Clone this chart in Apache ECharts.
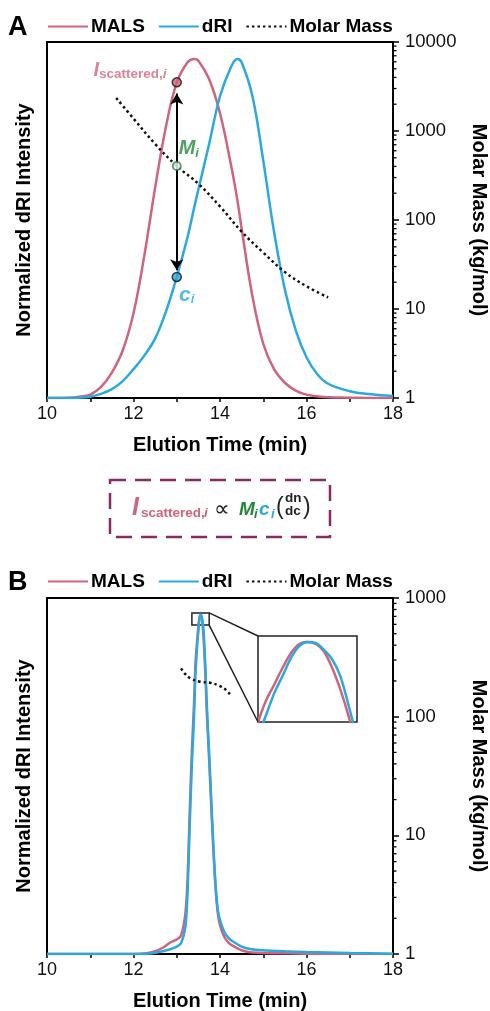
<!DOCTYPE html>
<html>
<head>
<meta charset="utf-8">
<title>MALS / dRI</title>
<script src="https://cdn.jsdelivr.net/npm/echarts@6/dist/echarts.min.js"></script>
<style>
  html, body { margin: 0; padding: 0; background: #fff; }
  #chart { width: 490px; height: 1011px; }
</style>
</head>
<body>
<div id="chart"></div>
<script>
// ---- panel A : broad peaks ----
const timeA = [10, 10.5, 10.75, 11, 11.25, 11.5, 11.75, 12, 12.25, 12.5, 12.75, 13, 13.25, 13.4, 13.5, 13.75,
  14, 14.25, 14.4, 14.5, 14.75, 15, 15.25, 15.5, 15.75, 16, 16.25, 16.5, 17, 17.5, 18];
const malsA = [0, 0.001, 0.004, 0.01, 0.033, 0.075, 0.14, 0.25, 0.42, 0.62, 0.8, 0.93, 0.99, 1.0, 0.995, 0.94,
  0.84, 0.69, 0.585, 0.5, 0.3, 0.16, 0.085, 0.045, 0.022, 0.01, 0.005, 0.002, 0.001, 0, 0];
const driA = [0, 0, 0.001, 0.004, 0.012, 0.026, 0.05, 0.085, 0.125, 0.175, 0.255, 0.357, 0.475, 0.56, 0.615, 0.75,
  0.89, 0.975, 1.0, 0.99, 0.89, 0.7, 0.49, 0.32, 0.2, 0.12, 0.07, 0.042, 0.02, 0.011, 0.006];
const molarTimeA = [11.6, 12, 12.5, 13, 13.5, 14, 14.5, 15, 15.5, 16, 16.5];
const molarA = [2350, 1380, 715, 405, 255, 142, 74, 43, 26, 18, 13.5];

// annotation points in A (slice at 13 min)
const sliceTime = 13;
const sliceMALS = 0.931;
const sliceDRI = 0.357;
const sliceMolar = 405;
const arrowLow = 0.377;
const arrowHigh = 0.898;

// ---- panel B : narrow peak ----
const timeB = [10, 11, 12, 12.3, 12.5, 12.7, 12.85, 13.0, 13.1, 13.2, 13.25, 13.3, 13.35, 13.4, 13.43, 13.45,
  13.47, 13.49, 13.51, 13.53, 13.55, 13.57, 13.59, 13.61, 13.63, 13.65, 13.67, 13.7, 13.75, 13.8, 13.85, 13.9,
  13.95, 14.0, 14.1, 14.2, 14.3, 14.5, 14.7, 15.0, 15.5, 16, 17, 18];
const malsB = [0, 0, 0, 0.002, 0.008, 0.02, 0.034, 0.043, 0.055, 0.12, 0.22, 0.42, 0.6, 0.74, 0.848, 0.891,
  0.921, 0.952, 0.979, 0.996, 1.0, 0.996, 0.982, 0.951, 0.91, 0.86, 0.8, 0.7, 0.57, 0.43, 0.3, 0.19,
  0.12, 0.085, 0.05, 0.033, 0.024, 0.011, 0.005, 0.003, 0.002, 0.001, 0, 0];
const driB = [0, 0, 0, 0.001, 0.004, 0.009, 0.014, 0.022, 0.032, 0.08, 0.18, 0.38, 0.56, 0.7, 0.82, 0.864,
  0.905, 0.937, 0.97, 0.992, 1.0, 0.998, 0.985, 0.967, 0.935, 0.88, 0.82, 0.72, 0.59, 0.45, 0.31, 0.2,
  0.13, 0.1, 0.065, 0.047, 0.037, 0.022, 0.015, 0.011, 0.008, 0.006, 0.003, 0.001];
const molarTimeB = [13.1, 13.2, 13.31, 13.54, 13.77, 14.0, 14.12, 14.23];
const molarB = [255, 228, 211, 197, 193, 181, 170, 155];

// zoom box on the peak and the inset range
const zoomBoxX = [13.35, 13.75];
const zoomBoxY = [0.97, 1.006];
const insetX = [13.43, 13.67];
const insetY = [0.85, 1.011];

const RED = '#d0647c';
const BLUE = '#2aa9e0';
const GREEN = '#22873a';
const PURPLE = '#8a2a60';
const FONT = '"Liberation Sans", Arial, sans-serif';

const pairs = (xs, ys) => xs.map((x, i) => [x, ys[i]]);

function xAxisFor(gridIndex) {
  return {
    type: 'value', gridIndex: gridIndex, min: 10, max: 18, interval: 2,
    axisLine: { show: true, onZero: false, lineStyle: { color: '#000', width: 2 } },
    axisTick: { show: true, length: 4, lineStyle: { color: '#000', width: 1.5 } },
    minorTick: { show: true, splitNumber: 2, length: 4, lineStyle: { color: '#000', width: 1.5 } },
    splitLine: { show: false },
    axisLabel: { fontSize: 18, color: '#111', fontFamily: FONT, margin: 7 },
    name: 'Elution Time (min)', nameLocation: 'middle', nameGap: 37,
    nameTextStyle: { fontSize: 20, fontWeight: 'bold', color: '#000', fontFamily: FONT }
  };
}

function leftAxisFor(gridIndex) {
  return {
    type: 'value', gridIndex: gridIndex, min: 0, max: 1.05,
    axisLine: { show: true, onZero: false, lineStyle: { color: '#000', width: 2 } },
    axisTick: { show: false }, axisLabel: { show: false }, splitLine: { show: false },
    name: 'Normalized dRI Intensity', nameLocation: 'middle', nameRotate: 90, nameGap: 13,
    nameTextStyle: { fontSize: 20, fontWeight: 'bold', color: '#000', fontFamily: FONT }
  };
}

function rightAxisFor(gridIndex, top) {
  return {
    type: 'log', logBase: 10, gridIndex: gridIndex, position: 'right', min: 1, max: top,
    axisLine: { show: true, onZero: false, lineStyle: { color: '#000', width: 2 } },
    axisTick: { show: true, length: 6, lineStyle: { color: '#000', width: 1.5 } },
    axisLabel: { fontSize: 18.5, color: '#111', fontFamily: FONT, margin: 12, formatter: v => String(Math.round(v)) },
    splitLine: { show: false },
    name: 'Molar Mass (kg/mol)', nameLocation: 'middle', nameRotate: -90, nameGap: 76,
    nameTextStyle: { fontSize: 20, fontWeight: 'bold', color: '#000', fontFamily: FONT }
  };
}

// log minor ticks (2..9 in each decade) drawn on the right axis
function minorTickSeries(xIdx, yIdx, decades) {
  const vals = [];
  for (let d = 0; d < decades; d++) {
    for (let k = 2; k <= 9; k++) vals.push([18, k * Math.pow(10, d)]);
  }
  return {
    type: 'custom', xAxisIndex: xIdx, yAxisIndex: yIdx, silent: true, clip: false, data: vals,
    renderItem: function (params, api) {
      const p = api.coord([api.value(0), api.value(1)]);
      return { type: 'line', shape: { x1: p[0], y1: p[1], x2: p[0] + 3.5, y2: p[1] },
        style: { stroke: '#000', lineWidth: 1.3 } };
    }
  };
}

function curve(name, color, xIdx, yIdx, xs, ys, smooth) {
  return {
    name: name, type: 'line', xAxisIndex: xIdx, yAxisIndex: yIdx, data: pairs(xs, ys),
    symbol: 'none', smooth: smooth, lineStyle: { color: color, width: 2.5 }, itemStyle: { color: color }
  };
}

function molarSeries(xIdx, yIdx, xs, ys) {
  return {
    name: 'Molar Mass', type: 'line', xAxisIndex: xIdx, yAxisIndex: yIdx, data: pairs(xs, ys),
    symbol: 'none', smooth: 0.4, z: 3,
    lineStyle: { color: '#111', width: 2.5, type: [2.5, 3] }, itemStyle: { color: '#111' }
  };
}

function legendAt(top) {
  return {
    top: top, left: 42, itemWidth: 40, itemHeight: 14, itemGap: 13, selectedMode: false,
    data: ['MALS', 'dRI', 'Molar Mass'], itemStyle: { opacity: 0 },
    textStyle: { fontSize: 19, fontWeight: 'bold', color: '#000', fontFamily: FONT, padding: [0, 0, 0, -2] }
  };
}

const subStyle = (size, color, italic) => ({
  fontSize: size, fontWeight: 'bold', fontStyle: italic ? 'italic' : 'normal', color: color,
  fontFamily: FONT, verticalAlign: 'bottom', lineHeight: size + 3
});

// text piece for the formula box, placed by baseline
function piece(id, x, baseline, str, size, weight, style, color) {
  return {
    type: 'text', id: id, x: x, y: baseline - 0.34 * size, silent: true,
    style: { text: str, fontSize: size, fontWeight: weight, fontStyle: style, fontFamily: FONT, fill: color,
      align: 'left', verticalAlign: 'middle', textAlign: 'left', textVerticalAlign: 'middle' }
  };
}

const gridBase = { outerBoundsMode: 'none', containLabel: false, show: true, backgroundColor: 'transparent' };

const chart = echarts.init(document.getElementById('chart'));

const option = {
  animation: false,
  backgroundColor: '#fff',
  legend: [legendAt(12), legendAt(567)],
  grid: [
    Object.assign({ left: 47, top: 42, width: 346, height: 356, borderColor: '#000', borderWidth: 2 }, gridBase),
    Object.assign({ left: 47, top: 598, width: 346, height: 356, borderColor: '#000', borderWidth: 2 }, gridBase),
    Object.assign({}, gridBase, { left: 258, top: 636, width: 99, height: 86, borderColor: '#222', borderWidth: 1.5, backgroundColor: '#fff' })
  ],
  xAxis: [
    xAxisFor(0), xAxisFor(1),
    { type: 'value', gridIndex: 2, min: insetX[0], max: insetX[1], show: false }
  ],
  yAxis: [
    leftAxisFor(0), rightAxisFor(0, 10000),
    leftAxisFor(1), rightAxisFor(1, 1000),
    { type: 'value', gridIndex: 2, min: insetY[0], max: insetY[1], show: false }
  ],
  series: [
    curve('MALS', RED, 0, 0, timeA, malsA, 0.4),
    curve('dRI', BLUE, 0, 0, timeA, driA, 0.4),
    molarSeries(0, 1, molarTimeA, molarA),
    Object.assign(curve('MALS', RED, 1, 2, timeB, malsB, 0.25), {
      markArea: {
        silent: true,
        itemStyle: { color: 'rgba(0,0,0,0)', borderColor: '#222', borderWidth: 1.5 },
        data: [[{ coord: [zoomBoxX[0], zoomBoxY[0]] }, { coord: [zoomBoxX[1], zoomBoxY[1]] }]]
      }
    }),
    curve('dRI', BLUE, 1, 2, timeB, driB, 0.25),
    molarSeries(1, 3, molarTimeB, molarB),
    curve('MALS', RED, 2, 4, timeB, malsB, 0.3),
    curve('dRI', BLUE, 2, 4, timeB, driB, 0.3),
    // slice markers on the intensity traces + double arrow
    {
      type: 'scatter', xAxisIndex: 0, yAxisIndex: 0, symbolSize: 9, z: 5,
      itemStyle: { borderColor: '#111', borderWidth: 1.5 },
      data: [
        {
          value: [sliceTime, sliceMALS], itemStyle: { color: RED },
          label: {
            show: true, position: 'left', distance: 5, offset: [0, -12],
            formatter: '{I|I}{s|scattered,}{si|i}',
            rich: {
              I: { fontSize: 20, fontWeight: 'bold', fontStyle: 'italic', color: RED, fontFamily: FONT, lineHeight: 22 },
              s: subStyle(13.5, RED, false), si: subStyle(13.5, RED, true)
            }
          }
        },
        {
          value: [sliceTime, sliceDRI], itemStyle: { color: BLUE },
          label: {
            show: true, position: 'right', distance: 5, offset: [-8, 18],
            formatter: '{c|c}{ci|i}',
            rich: {
              c: { fontSize: 21, fontWeight: 'bold', fontStyle: 'italic', color: BLUE, fontFamily: FONT, lineHeight: 22 },
              ci: subStyle(13, BLUE, true)
            }
          }
        }
      ],
      markLine: {
        silent: true, symbol: ['arrow', 'arrow'], symbolSize: [10, 11],
        lineStyle: { color: '#000', width: 2, type: 'solid' }, label: { show: false },
        data: [[{ coord: [sliceTime, arrowLow] }, { coord: [sliceTime, arrowHigh] }]]
      }
    },
    {
      type: 'scatter', xAxisIndex: 0, yAxisIndex: 1, symbolSize: 8, z: 5,
      itemStyle: { color: '#fff', borderColor: GREEN, borderWidth: 1.8 },
      data: [{
        value: [sliceTime, sliceMolar],
        label: {
          show: true, position: 'right', distance: 5, offset: [-8, -17],
          formatter: '{M|M}{Mi|i}',
          rich: {
            M: { fontSize: 20, fontWeight: 'bold', fontStyle: 'italic', color: GREEN, fontFamily: FONT, lineHeight: 22 },
            Mi: subStyle(13, GREEN, true)
          }
        }
      }]
    },
    minorTickSeries(0, 1, 4),
    minorTickSeries(1, 3, 3)
  ],
  graphic: [
    { type: 'text', id: 'tagA', left: 8, top: 14, silent: true,
      style: { text: 'A', fontSize: 27, fontWeight: 'bold', fontFamily: FONT, fill: '#000' } },
    { type: 'text', id: 'tagB', left: 8, top: 569, silent: true,
      style: { text: 'B', fontSize: 27, fontWeight: 'bold', fontFamily: FONT, fill: '#000' } },
    { type: 'rect', id: 'fbox', silent: true, shape: { x: 110, y: 480, width: 220, height: 57 },
      style: { fill: 'none', stroke: PURPLE, lineWidth: 2.5, lineDash: [16, 9] } },
    piece('fI', 132, 517, 'I', 25, 'bold', 'italic', RED),
    piece('fs', 141, 518, 'scattered,', 13.5, 'bold', 'normal', RED),
    piece('fsi', 204, 518, 'i', 13.5, 'bold', 'italic', RED),
    piece('fp', 214, 517, '\u221d', 22, 'normal', 'normal', '#222'),
    piece('fM', 239, 516, 'M', 19, 'bold', 'italic', GREEN),
    piece('fMi', 254, 519, 'i', 13, 'bold', 'italic', GREEN),
    piece('fc', 259, 516, 'c', 19, 'bold', 'italic', BLUE),
    piece('fci', 271, 519, 'i', 13, 'bold', 'italic', BLUE),
    piece('fl', 276, 515, '(', 23, 'normal', 'normal', '#222'),
    piece('fdn', 285, 503, 'dn', 13.5, 'bold', 'normal', '#222'),
    piece('fdc', 285, 516, 'dc', 13.5, 'bold', 'normal', '#222'),
    piece('fr', 303, 515, ')', 23, 'normal', 'normal', '#222')
  ]
};

chart.setOption(option);

// connector lines from the zoom box to the inset, placed through the axes
const boxTopRight = chart.convertToPixel({ xAxisIndex: 1, yAxisIndex: 2 }, [zoomBoxX[1], zoomBoxY[1]]);
const boxBottomRight = chart.convertToPixel({ xAxisIndex: 1, yAxisIndex: 2 }, [zoomBoxX[1], zoomBoxY[0]]);
const insetTopLeft = chart.convertToPixel({ xAxisIndex: 2, yAxisIndex: 4 }, [insetX[0], insetY[1]]);
const insetBottomLeft = chart.convertToPixel({ xAxisIndex: 2, yAxisIndex: 4 }, [insetX[0], insetY[0]]);

chart.setOption({
  graphic: [
    { type: 'line', id: 'link1', silent: true, z: 10,
      shape: { x1: boxTopRight[0], y1: boxTopRight[1], x2: insetTopLeft[0], y2: insetTopLeft[1] },
      style: { stroke: '#222', lineWidth: 1.5 } },
    { type: 'line', id: 'link2', silent: true, z: 10,
      shape: { x1: boxBottomRight[0], y1: boxBottomRight[1], x2: insetBottomLeft[0], y2: insetBottomLeft[1] },
      style: { stroke: '#222', lineWidth: 1.5 } }
  ]
});
</script>
</body>
</html>
